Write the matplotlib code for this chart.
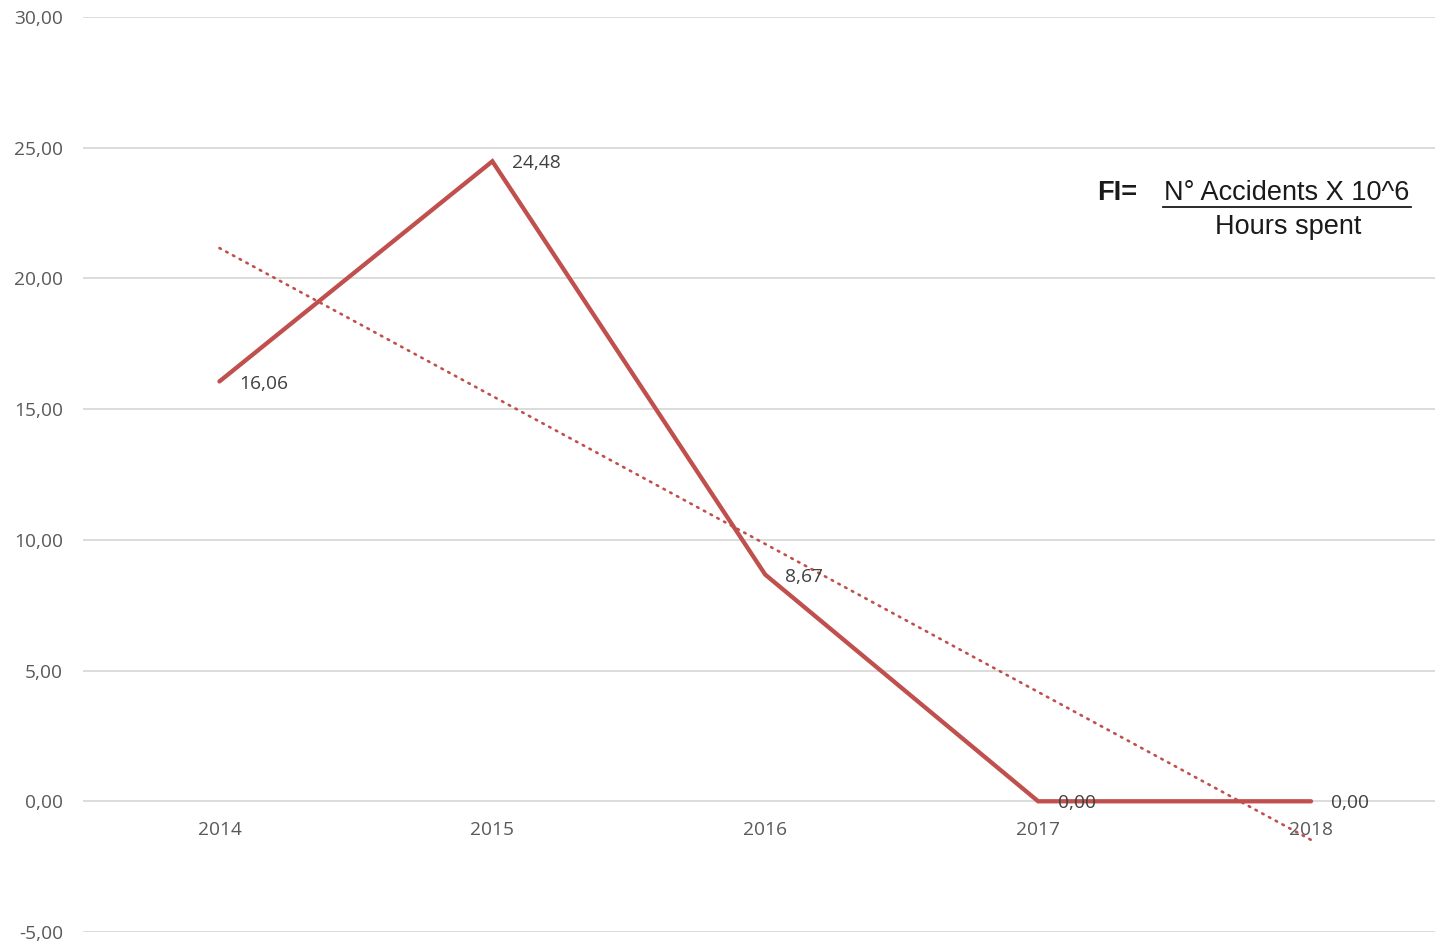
import matplotlib
matplotlib.use("Agg")
import matplotlib.pyplot as plt
from matplotlib.lines import Line2D
import numpy as np

years = ["2014", "2015", "2016", "2017", "2018"]
fi_values = [16.06, 24.48, 8.67, 0.00, 0.00]
data_labels = ["16,06", "24,48", "8,67", "0,00", "0,00"]
y_ticks = [-5, 0, 5, 10, 15, 20, 25, 30]
y_tick_labels = ["-5,00", "0,00", "5,00", "10,00", "15,00", "20,00", "25,00", "30,00"]

W, H = 1435, 948
fig = plt.figure(figsize=(W / 100, H / 100), dpi=100)
left = 83 / W
right = 1447.5 / W
bottom = (H - 932) / H
top = (H - 17) / H
ax = fig.add_axes([left, bottom, right - left, top - bottom])

x = np.arange(len(years))
red = "#C0504D"
FS = 13.8

ax.plot(x, fi_values, color=red, linewidth=3.1, solid_capstyle="round",
        solid_joinstyle="miter", zorder=3)

# linear trend line
coef = np.polyfit(x, fi_values, 1)
trend = np.polyval(coef, x)
ax.plot(x, trend, color=red, linewidth=1.9, linestyle=(0, (0.6, 2.3)),
        dash_capstyle="round", zorder=2)

for xi, yi, lab in zip(x, fi_values, data_labels):
    ax.annotate(lab, (xi, yi), xytext=(14.5, -1.5), textcoords="offset points",
                ha="left", va="center", fontsize=FS, color="#404040",
                family="Open Sans", zorder=4)

ax.set_xlim(-0.5, len(years) - 0.5)
ax.set_ylim(-5, 30)
ax.set_yticks(y_ticks)
ax.set_yticklabels(y_tick_labels, family="Open Sans", fontsize=FS, color="#595959")
ax.set_xticks(x)
ax.set_xticklabels([])
ax.tick_params(axis="both", length=0)
ax.tick_params(axis="y", pad=14.4)
ax.grid(axis="y", color="#D9D9D9", linewidth=1.3)
ax.set_axisbelow(True)
for s in ax.spines.values():
    s.set_visible(False)

# category labels just below the zero line
for xi, yr in zip(x, years):
    ax.annotate(yr, (xi, 0), xytext=(0, -20.7), textcoords="offset points",
                ha="center", va="center", fontsize=FS, color="#595959",
                family="Open Sans")

# formula box
fig.text(1097 / W, 1 - 193 / H, "FI=", fontsize=19.5, fontweight="bold",
         family="Liberation Sans", color="#1a1a1a", ha="left", va="center")
fig.text(1287 / W, 1 - 193 / H, "N° Accidents X 10^6", fontsize=19.5,
         family="Liberation Sans", color="#1a1a1a", ha="center", va="center")
fig.add_artist(Line2D([1163 / W, 1411 / W], [1 - 206.5 / H, 1 - 206.5 / H],
                      color="#1a1a1a", linewidth=1.3))
fig.text(1288 / W, 1 - 227 / H, "Hours spent", fontsize=19.5,
         family="Liberation Sans", color="#1a1a1a", ha="center", va="center")

fig.savefig("out.png", dpi=100)
